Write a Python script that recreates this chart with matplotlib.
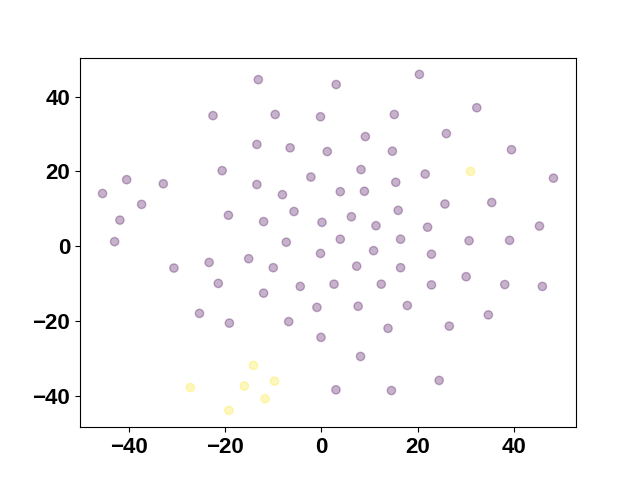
import numpy as np
import matplotlib
matplotlib.use('Agg')
import matplotlib.pyplot as plt

# ---Embedding coordinates---
x = [-13.1, -22.5, -9.6, -0.2, -13.4, -6.5, 1.2, -20.6, -2.2, -45.4,
     -40.4, -32.8, -37.3, -41.8, -42.9, -13.4, -8.1, -19.3, -5.7, -12.0,
     0.1, -7.3, -0.2, -30.6, -23.3, -15.1, -10.0, -21.4, -12.0, -4.4,
     -25.3, -19.1, -6.8, -0.95, -0.1, 3.05, 20.3, 15.1, 32.2, 9.1,
     25.9, 14.7, 39.4, 8.2, 15.4, 21.5, 48.1, 3.9, 8.9, 25.6,
     35.3, 15.9, 6.2, 11.3, 22.0, 45.2, 3.9, 16.4, 30.6, 39.0,
     10.8, 22.8, 7.3, 16.4, 2.6, 12.4, 22.8, 30.0, 38.0, 45.8,
     7.6, 17.8, 34.6, 13.8, 26.5, 8.1, 3.0, 14.5, 24.4,
     30.9, -14.1, -27.2, -16.0, -9.75, -11.7, -19.2]
y = [44.5, 34.9, 35.2, 34.6, 27.2, 26.3, 25.3, 20.2, 18.5, 14.1,
     17.8, 16.7, 11.2, 7.0, 1.25, 16.5, 13.8, 8.3, 9.3, 6.6,
     6.4, 1.1, -1.9, -5.8, -4.3, -3.3, -5.7, -9.9, -12.5, -10.7,
     -17.9, -20.5, -20.1, -16.3, -24.3, 43.2, 45.9, 35.2, 37.0, 29.3,
     30.1, 25.4, 25.8, 20.5, 17.1, 19.3, 18.2, 14.6, 14.7, 11.3,
     11.7, 9.6, 7.9, 5.5, 5.1, 5.4, 1.9, 1.9, 1.5, 1.6,
     -1.15, -2.1, -5.3, -5.7, -10.1, -10.1, -10.3, -8.1, -10.2, -10.7,
     -16.0, -15.8, -18.3, -21.9, -21.3, -29.4, -38.3, -38.5, -35.8,
     20.0, -31.8, -37.7, -37.3, -36.0, -40.7, -43.8]
# class labels (0 = purple, 1 = yellow)
labels = [0] * 79 + [1] * 7

plt.rcParams['font.family'] = ['Liberation Sans', 'DejaVu Sans']

fig, ax = plt.subplots(figsize=(6.4, 4.8), dpi=100)
ax.scatter(x, y, c=labels, cmap='viridis', alpha=0.3)
for lab in ax.get_xticklabels() + ax.get_yticklabels():
    lab.set_fontsize(16)
    lab.set_fontweight('bold')
plt.savefig('out.png')
